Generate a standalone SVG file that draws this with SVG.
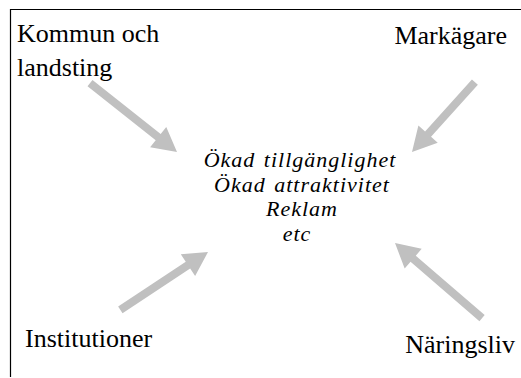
<svg xmlns="http://www.w3.org/2000/svg" width="521" height="378" viewBox="0 0 521 378">
<style>
.lbl{font-family:"Liberation Serif","Times New Roman",serif;font-size:26px;fill:#000}
.ctr{font-family:"Liberation Serif","Times New Roman",serif;font-size:22px;font-style:italic;letter-spacing:1px;word-spacing:2px;fill:#000;text-anchor:middle}
.arr{fill:#c0c0c0}
.frame{stroke:#000;stroke-width:1.2;fill:none}
</style>
<path class="frame" d="M10.5,377 V9.5 H521"/>
<g id="kommun"><text class="lbl" x="17" y="42">Kommun och</text><text class="lbl" x="17" y="76">landsting</text></g>
<g id="markagare"><text class="lbl" x="507" y="44" text-anchor="end">Markägare</text></g>
<g id="institutioner"><text class="lbl" x="25" y="347">Institutioner</text></g>
<g id="naringsliv"><text class="lbl" x="515" y="353" text-anchor="end">Näringsliv</text></g>
<g id="center">
<text class="ctr" x="300" y="167">Ökad tillgänglighet</text>
<text class="ctr" x="302" y="192">Ökad attraktivitet</text>
<text class="ctr" x="302" y="216">Reklam</text>
<text class="ctr" x="297" y="241">etc</text>
</g>
<g id="connectors">
<polygon class="arr" transform="translate(177,152) rotate(38.4)" points="0,0 -24,-13 -24,-4 -111,-4 -111,4 -24,4 -24,13"/>
<polygon class="arr" transform="translate(412,152) rotate(132)" points="0,0 -24,-13 -24,-4 -94,-4 -94,4 -24,4 -24,13"/>
<polygon class="arr" transform="translate(208,252) rotate(-33.4)" points="0,0 -24,-13 -24,-4 -105,-4 -105,4 -24,4 -24,13"/>
<polygon class="arr" transform="translate(395,243) rotate(-139.2)" points="0,0 -24,-13 -24,-4 -115,-4 -115,4 -24,4 -24,13"/>
</g>
</svg>
